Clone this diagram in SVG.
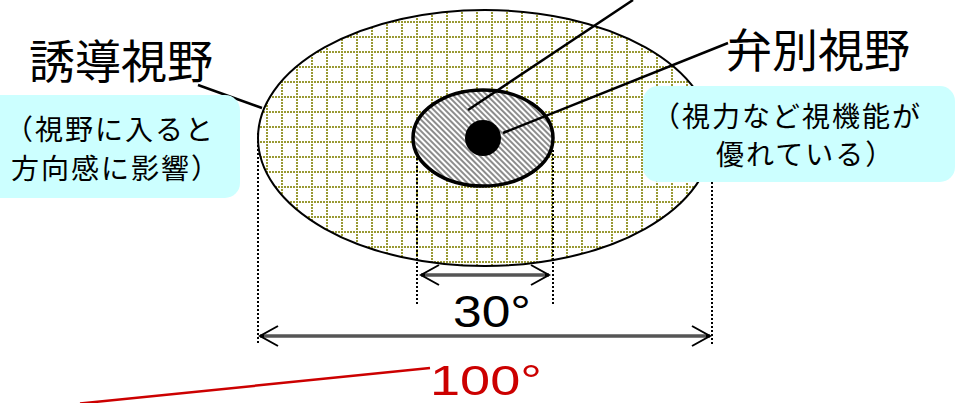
<svg xmlns="http://www.w3.org/2000/svg" width="959" height="403" viewBox="0 0 959 403">
<style>
.cjk{font-family:"Noto Sans CJK JP","Noto Sans",sans-serif;fill:#000}
.sm{font-size:28px;letter-spacing:2px}
.num{font-family:"Liberation Sans",Arial,sans-serif}
.lead{stroke:#000;stroke-width:2.5;fill:none}
.dot{stroke:#000;stroke-width:2;stroke-dasharray:2 2;fill:none}
.box{fill:#ccffff}
.dim{stroke:#000;stroke-width:3;fill:none}
.dimc{stroke:#aaa;stroke-width:1;fill:none}
</style>
<defs>
<pattern id="grid" patternUnits="userSpaceOnUse" x="11" y="6" width="15" height="15">
<rect width="15" height="15" fill="#fff"/>
<line x1="0" y1="1" x2="15" y2="1" stroke="#999933" stroke-width="2" stroke-dasharray="2 1"/>
<line x1="1" y1="0" x2="1" y2="15" stroke="#999933" stroke-width="2" stroke-dasharray="2 1"/>
</pattern>
<pattern id="hatch" patternUnits="userSpaceOnUse" width="4" height="4" patternTransform="rotate(-45)">
<rect width="4" height="4" fill="#fff"/>
<line x1="1" y1="0" x2="1" y2="4" stroke="#808080" stroke-width="1.8"/>
</pattern>
<marker id="v" markerUnits="userSpaceOnUse" viewBox="-22 -13 24 26" refX="0" refY="0" markerWidth="24" markerHeight="26" orient="auto-start-reverse">
<path d="M-18,-10 L0,0 L-18,10" stroke="#000" stroke-width="2" fill="none"/>
</marker>
</defs>

<g id="outer-field">
<ellipse cx="485" cy="138" rx="227" ry="128" fill="url(#grid)" stroke="#000" stroke-width="2"/>
</g>

<g id="guides">
<line class="dot" x1="258" y1="133" x2="258" y2="345"/>
<line class="dot" x1="712" y1="138" x2="712" y2="345"/>
<line class="dot" x1="417" y1="150" x2="417" y2="305"/>
<line class="dot" x1="553" y1="150" x2="553" y2="305"/>
</g>

<g id="inner-field">
<ellipse cx="483" cy="138" rx="70" ry="48" fill="url(#hatch)" stroke="#000" stroke-width="3.5"/>
</g>

<g id="center">
<circle cx="483" cy="138" r="18" fill="#000"/>
</g>

<g id="connectors">
<line class="lead" x1="633" y1="0" x2="468" y2="110"/>
<line class="lead" x1="728" y1="43" x2="503" y2="133"/>
<line class="lead" x1="198" y1="85" x2="262" y2="108"/>
<line class="dim" x1="421" y1="275" x2="549" y2="275" marker-start="url(#v)" marker-end="url(#v)"/>
<line class="dimc" x1="425" y1="275" x2="545" y2="275"/>
<line class="dim" x1="260" y1="336" x2="710" y2="336" marker-start="url(#v)" marker-end="url(#v)"/>
<line class="dimc" x1="264" y1="336" x2="706" y2="336"/>
<line x1="80" y1="403.5" x2="430" y2="368" stroke="#cc0000" stroke-width="2.5"/>
</g>

<g id="label-induced">
<text class="cjk" x="29" y="78" font-size="46">誘導視野</text>
<rect class="box" x="-20" y="95" width="260" height="103" rx="15"/>
<text class="cjk sm" x="5" y="140">（視野に入ると</text>
<text class="cjk sm" x="11" y="179">方向感に影響）</text>
</g>

<g id="label-discrim">
<text class="cjk" x="726" y="67" font-size="46">弁別視野</text>
<rect class="box" x="643" y="86" width="312" height="96" rx="15"/>
<text class="cjk sm" x="652" y="127">（視力など視機能が</text>
<text class="cjk sm" x="716" y="165">優れている）</text>
</g>

<g id="label-30">
<text class="num" x="453" y="327" font-size="44" textLength="78" lengthAdjust="spacingAndGlyphs" fill="#000">30°</text>
</g>

<g id="label-100">
<text class="num" x="430" y="395" font-size="43" textLength="112" lengthAdjust="spacingAndGlyphs" fill="#cc0000">100°</text>
</g>
</svg>
